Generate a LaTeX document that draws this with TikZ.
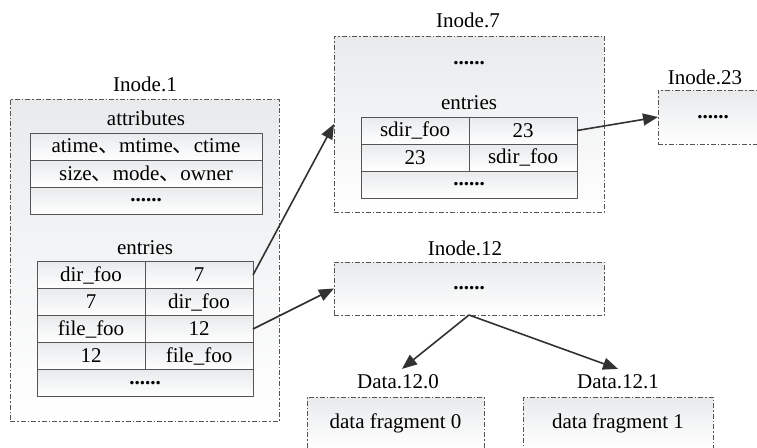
\documentclass[tikz,border=0pt]{standalone}
\usepackage{fontspec}
\setmainfont{Liberation Serif}
\newfontfamily\cjk{Noto Sans CJK SC}
\usetikzlibrary{arrows.meta}
\definecolor{linegray}{RGB}{85,85,85}
\definecolor{arrowgray}{RGB}{50,50,50}
\definecolor{topgray}{RGB}{232,234,236}
\newcommand{\dt}{{\cjk 、}}
\newcommand{\dotsix}{\textbf{......}}
\begin{document}
\begin{tikzpicture}[x=1pt,y=-1pt,
  every node/.style={font=\fontsize{21}{25}\selectfont, inner sep=0pt, outer sep=0pt},
  dashbox/.style={draw=linegray, line width=0.8pt, dash pattern=on 5pt off 2pt on 1.5pt off 2pt, top color=topgray, bottom color=white},
  cell/.style={draw=linegray, line width=0.9pt, top color=topgray, bottom color=white, minimum height=27pt},
  halfcell/.style={cell, minimum width=108pt},
  fullcell/.style={cell, minimum width=216pt},
  attrcell/.style={cell, minimum width=232pt},
  lab/.style={},
  link/.style={draw=arrowgray, line width=1.6pt, -{Triangle[length=15pt,width=12pt]}}
]
\useasboundingbox (0,0) rectangle (757,447);
\clip (0,0) rectangle (757,447);
% Inode.1
\node[lab] (l1) at (145,84) {Inode.1};
\node[dashbox, minimum width=269pt, minimum height=322pt] (i1) at (144.5,260) {};
\node[lab] (attr) at (146,118) {attributes};
\node[attrcell] (a1) at (146,146.5) {atime\dt mtime\dt ctime};
\node[attrcell] (a2) at (146,173.5) {size\dt mode\dt owner};
\node[attrcell] (a3) at (146,200.5) {\dotsix};
\node[lab] (ent1) at (145,248) {entries};
\node[halfcell] (e11) at (91,275) {dir\_foo};
\node[halfcell] (e12) at (199,275) {7};
\node[halfcell] (e21) at (91,302) {7};
\node[halfcell] (e22) at (199,302) {dir\_foo};
\node[halfcell] (e31) at (91,329) {file\_foo};
\node[halfcell] (e32) at (199,329) {12};
\node[halfcell] (e41) at (91,356) {12};
\node[halfcell] (e42) at (199,356) {file\_foo};
\node[fullcell] (e5) at (145,383) {\dotsix};
% Inode.7
\node[lab] (l7) at (468,20) {Inode.7};
\node[dashbox, minimum width=270pt, minimum height=176pt] (i7) at (469,124) {};
\node[lab] (d7) at (469,63) {\dotsix};
\node[lab] (ent7) at (469,103) {entries};
\node[halfcell] (s11) at (415,130.5) {sdir\_foo};
\node[halfcell] (s12) at (523,130.5) {23};
\node[halfcell] (s21) at (415,157.5) {23};
\node[halfcell] (s22) at (523,157.5) {sdir\_foo};
\node[fullcell] (s3) at (469,184.5) {\dotsix};
% Inode.23
\node[lab] (l23) at (705,77) {Inode.23};
\node[dashbox, minimum width=110pt, minimum height=54pt] (i23) at (713,117) {\dotsix};
% Inode.12
\node[lab] (l12) at (465,248) {Inode.12};
\node[dashbox, minimum width=270pt, minimum height=53pt] (i12) at (469,288.5) {\dotsix};
% Data
\node[lab] (ld0) at (398,382) {Data.12.0};
\node[dashbox, minimum width=177pt, minimum height=52pt] (d0) at (395.5,423) {data fragment 0};
\node[lab] (ld1) at (618,382) {Data.12.1};
\node[dashbox, minimum width=190pt, minimum height=52pt] (d1) at (618,423) {data fragment 1};
% links
\draw[link] (i12.south) -- ([xshift=4pt,yshift=6pt]ld0.north);
\draw[link] (i12.south) -- ([yshift=6pt]ld1.north);
\draw[link] (e12.east) -- (i7.west);
\draw[link] (e32.east) -- (i12.west);
\draw[link] (s12.east) -- (i23.west);
\end{tikzpicture}
\end{document}
